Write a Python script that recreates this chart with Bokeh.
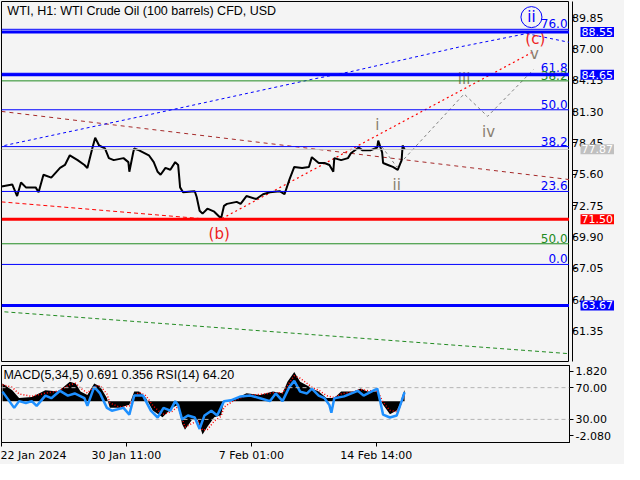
from bokeh.plotting import figure
from bokeh.layouts import column, row
from bokeh.models import Range1d, FixedTicker, Label, Span, NumeralTickFormatter
from bokeh.core.properties import value
from bokeh.embed import file_html
from bokeh.resources import INLINE

# ---------------- data ----------------
title_text = "WTI, H1:  WTI Crude Oil (100 barrels) CFD, USD"
macd_text = "MACD(5,34,5) 0.691 0.356 RSI(14) 64.20"

price_ticks = [61.35, 64.20, 67.05, 69.90, 72.75, 75.60, 78.45, 81.30, 84.15, 87.00, 89.85]
time_ticks = [0, 128, 256, 384]
time_labels = ["22 Jan 2024", "30 Jan 11:00", "7 Feb 01:00", "14 Feb 14:00"]

bar_x = [0, 11, 16, 20, 25, 35, 38, 43, 51, 60, 65, 70, 78, 85, 88, 93, 96, 100, 106, 110,
         115, 125, 130, 131, 135, 136, 141, 151, 156, 160, 163, 168, 173, 178, 181, 183, 186, 198, 200, 203,
         206, 211, 218, 225, 228, 231, 241, 245, 251, 261, 268, 275, 285, 290, 295, 300, 308, 315, 318, 325,
         331, 336, 340, 341, 348, 355, 358, 366, 370, 378, 385, 386, 390, 391, 396, 401, 406, 410, 411, 413]
close = [74.50, 74.68, 73.62, 74.86, 74.41, 74.41, 73.97, 75.56, 75.30, 76.18,
         76.45, 77.33, 76.89, 76.45, 76.18, 77.95, 78.93, 78.22, 77.95, 77.07,
         76.89, 77.07, 76.71, 75.83, 77.60, 77.95, 77.78, 77.33, 76.71, 75.83,
         75.56, 76.18, 76.01, 76.71, 76.45, 74.41, 73.97, 74.06, 73.53, 72.29,
         72.02, 72.47, 72.20, 71.58, 72.73, 72.91, 73.09, 72.91, 73.62, 73.35,
         73.79, 73.97, 74.06, 73.79, 75.12, 76.27, 76.18, 76.27, 77.16, 76.63,
         76.63, 76.45, 75.83, 77.07, 76.89, 77.07, 77.51, 78.04, 77.78, 77.78,
         78.04, 78.66, 77.60, 76.63, 76.45, 76.27, 76.01, 76.89, 78.22, 77.87]

# horizontal levels
thick_blue_levels = [88.55, 84.65, 63.67]
red_level = 71.50
current_price = 77.87
fib_blue_levels = [67.40, 74.04, 78.12, 81.47, 84.79, 88.79]
fib_blue_labels = ["0.0", "23.6", "38.2", "50.0", "61.8", "76.0"]
fib_green_levels = [84.10, 69.28]
fib_green_labels = ["38.2", "50.0"]

# price tags on the right scale
tag_values = [88.55, 84.65, 77.87, 71.50, 63.67]
tag_colors = ["#0000ff", "#0000ff", "#c0c0c0", "#ff0000", "#0000ff"]

# sloping trend lines
blue_curve_x = [3, 148, 318, 358, 468, 538, 582]
blue_curve_y = [78.22, 80.96, 84.24, 84.94, 87.16, 88.40, 87.60]
brown_x = [0, 582]
brown_y = [81.32, 75.12]
red_dash_x = [0, 203]
red_dash_y = [73.09, 71.58]
red_dot_x = [226, 546]
red_dot_y = [71.58, 86.80]
green_x = [3, 582]
green_y = [63.09, 59.28]
wave_x = [386, 405, 474, 498, 545]
wave_y = [78.57, 76.27, 82.91, 80.87, 85.12]

# wave labels
gray_lbl = ["i", "ii", "iii", "iv", "v"]
gray_lbl_x = [385, 405, 474, 499, 546]
gray_lbl_y = [80.08, 74.59, 84.24, 79.46, 86.54]
red_lbl = ["(b)", "(c)"]
red_lbl_x = [223, 547]
red_lbl_y = [70.17, 87.95]
circ_lbl_x = [543]
circ_lbl_y = [89.90]

# MACD / RSI sub-window
m_x = [1, 11, 18, 31, 45, 58, 70, 76, 81, 88, 95, 101, 108, 111, 121, 131, 136, 141, 148, 155,
       165, 175, 181, 185, 188, 195, 201, 206, 211, 218, 225, 228, 238, 251, 265, 278, 288, 293, 300, 306,
       315, 318, 325, 333, 341, 348, 361, 368, 375, 385, 388, 391, 398, 405, 408, 411, 413]
macd = [1.08, 0.67, 0.20, 0.26, 0.67, 0.60, 1.19, 1.08, 0.60, 0.38,
        1.08, 0.90, 0.20, -0.38, -0.38, -0.20, 0.60, 0.60, 0.20, -0.55,
        -0.96, -0.38, -0.20, -1.37, -1.72, -1.13, -1.13, -2.00, -1.54, -0.96,
        -0.84, 0.00, 0.09, 0.49, 0.38, 0.60, 0.49, 1.19, 1.77, 1.19,
        0.90, 0.78, 0.60, 0.20, 0.20, 0.60, 0.60, 0.78, 0.60, 0.60,
        0.09, -0.20, -0.78, -0.55, -0.20, 0.38, 0.69]
signal = [1.00, 0.85, 0.45, 0.30, 0.50, 0.62, 1.00, 1.10, 0.80, 0.50,
          0.90, 0.95, 0.45, -0.10, -0.35, -0.28, 0.30, 0.55, 0.35, -0.25,
          -0.80, -0.60, -0.30, -1.00, -1.55, -1.35, -1.15, -1.75, -1.70, -1.20,
          -0.90, -0.35, 0.05, 0.35, 0.42, 0.52, 0.52, 0.95, 1.55, 1.40,
          1.00, 0.85, 0.68, 0.35, 0.22, 0.45, 0.58, 0.72, 0.65, 0.60,
          0.30, -0.05, -0.55, -0.62, -0.35, 0.10, 0.36]
r_x = [1, 13, 18, 25, 31, 36, 45, 51, 60, 68, 75, 85, 88, 95, 101, 108, 113, 125, 131, 136,
       145, 153, 160, 166, 173, 178, 181, 185, 191, 198, 203, 208, 215, 221, 228, 235, 245, 255, 265, 275,
       281, 288, 295, 300, 306, 313, 318, 325, 331, 336, 338, 341, 351, 365, 371, 385, 388, 391, 398, 405,
       410, 413]
rsi = [65, 44.5, 53, 50.6, 53, 47, 60, 56.7, 66, 60, 62.7, 56.7, 47, 71, 62.7, 44.5, 41, 44.5, 36, 60,
       60, 41, 32.4, 44.5, 41, 53, 48, 30, 35, 32.4, 18, 35, 41, 35, 53, 54, 59, 60, 56.7, 53,
       62.7, 53, 71, 78.5, 65, 62.7, 68.8, 60, 56.7, 48, 38.5, 56.7, 59, 66, 60, 68.8, 53, 36, 32.4, 35,
       53, 64.2]
rsi_levels = [70, 30]
macd_scale = [1.82, -2.08]

# ---------------- styling ----------------
BG = "#f4f4f4"
AX_FONT = "DejaVu Sans"
HDR_FONT = "Liberation Sans"
x_rng = Range1d(0, 582)
y_rng = Range1d(58.57, 91.32)

def style_axis(ax):
    ax.minor_tick_out = 0
    ax.minor_tick_in = 0
    ax.major_label_text_font = AX_FONT
    ax.major_label_text_font_size = "11px"
    ax.major_label_text_color = "black"
    ax.axis_line_color = "black"
    ax.major_tick_line_color = "black"

# main price window (no axis of its own)
p = figure(width=569, height=362, x_range=x_rng, y_range=y_rng,
           output_backend="svg", toolbar_location=None, x_axis_location=None,
           y_axis_location=None, min_border_left=1, min_border_right=0,
           min_border_top=1, min_border_bottom=1,
           background_fill_color=BG, border_fill_color=BG)
p.grid.visible = False
p.outline_line_color = "black"
p.outline_line_width = 1

# price scale strip to the right, sharing the price range
pa = figure(width=55, height=362, x_range=Range1d(0, 1), y_range=y_rng,
            output_backend="svg", toolbar_location=None, x_axis_location=None,
            y_axis_location="left", min_border_left=0, min_border_right=0,
            min_border_top=1, min_border_bottom=1,
            background_fill_color=BG, border_fill_color=BG)
pa.grid.visible = False
pa.outline_line_color = None
ya = pa.yaxis[0]
ya.ticker = FixedTicker(ticks=price_ticks)
ya.formatter = NumeralTickFormatter(format="0.00")
style_axis(ya)
ya.major_tick_out = 0
ya.major_tick_in = 4
ya.major_label_text_align = "right"
ya.major_label_standoff = -31

# thin levels
for lv in fib_blue_levels:
    p.add_layout(Span(location=lv, dimension="width", line_color="#0000ff", line_width=1))
for lv in fib_green_levels:
    p.add_layout(Span(location=lv, dimension="width", line_color="#228b22", line_width=1))
p.add_layout(Span(location=current_price, dimension="width", line_color="#c0c0c0", line_width=1))

# sloping lines
p.line(green_x, green_y, line_color="#228b22", line_dash="4 3", line_width=1)
p.line(brown_x, brown_y, line_color="#a52a2a", line_dash="4 4", line_width=1)
p.line(blue_curve_x, blue_curve_y, line_color="#0000ff", line_dash="3 3", line_width=1)
p.line(red_dash_x, red_dash_y, line_color="#ff0000", line_dash="4 3", line_width=1)
p.line(red_dot_x, red_dot_y, line_color="#ff0000", line_dash="2 3", line_width=1.2)
p.line(wave_x, wave_y, line_color="#808080", line_dash="3 3", line_width=1)

# thick levels
for lv in thick_blue_levels:
    p.add_layout(Span(location=lv, dimension="width", line_color="#0000ff", line_width=3))
p.add_layout(Span(location=red_level, dimension="width", line_color="#ff0000", line_width=3))

# price
p.line(bar_x, close, line_color="black", line_width=2)

# fib labels
p.text(x=[580] * len(fib_blue_levels), y=fib_blue_levels, text=fib_blue_labels,
       text_align="right", text_baseline="bottom", y_offset=-1,
       text_color="#0000ff", text_font=value(AX_FONT), text_font_size="12px")
p.text(x=[580] * len(fib_green_levels), y=fib_green_levels, text=fib_green_labels,
       text_align="right", text_baseline="bottom", y_offset=-1,
       text_color="#228b22", text_font=value(AX_FONT), text_font_size="12px")

# wave labels
p.text(x=gray_lbl_x, y=gray_lbl_y, text=gray_lbl, text_align="center", text_baseline="middle",
       text_color="#8a8070", text_font=value(AX_FONT), text_font_size="15px")
p.text(x=red_lbl_x, y=red_lbl_y, text=red_lbl, text_align="center", text_baseline="middle",
       text_color="#ee1c1c", text_font=value(AX_FONT), text_font_size="15px")
p.scatter(x=circ_lbl_x, y=circ_lbl_y, marker="circle", size=21, fill_color=None,
          line_color="#0000ff", line_width=1)
p.text(x=circ_lbl_x, y=circ_lbl_y, text=["ii"], text_align="center", text_baseline="middle",
       text_color="#0000ff", text_font=value(AX_FONT), text_font_size="15px")

# header
p.text(x=[6], y=[90.43], text=[title_text], text_align="left", text_baseline="middle",
       text_color="black", text_font=value(HDR_FONT), text_font_size="12.5px")

# price tags inside the price-scale strip
for val, col in zip(tag_values, tag_colors):
    pa.add_layout(Label(x=0, y=val, x_offset=8, text=f"{val:.2f}", text_color="white",
                        text_font=AX_FONT, text_font_size="11px", text_align="left",
                        text_baseline="middle", background_fill_color=col,
                        background_fill_alpha=1.0, padding=1))

top = row(p, pa, spacing=0)

# ---------------- MACD panel ----------------
r0, r1 = 0.9, 97.9
m0, m1 = -2.49, 2.17
q = figure(width=624, height=102, x_range=x_rng, y_range=Range1d(r0, r1),
           output_backend="svg", toolbar_location=None, y_axis_location="right",
           min_border_left=1, min_border_right=55, min_border_top=3, min_border_bottom=20,
           background_fill_color=BG, border_fill_color=BG)
q.extra_y_ranges = {"macd": Range1d(m0, m1)}
q.grid.visible = False
q.outline_line_color = "black"

for lv in rsi_levels:
    q.add_layout(Span(location=lv, dimension="width", line_color="#b4b4b4", line_dash="4 3", line_width=1))
q.varea(x=m_x, y1=0, y2=macd, fill_color="black", y_range_name="macd")
q.line(m_x, signal, line_color="#ff0000", line_dash="1 2", line_width=1.5, y_range_name="macd")
q.line(r_x, rsi, line_color="#1e90ff", line_width=2.5)
q.text(x=[2], y=[85.5], text=[macd_text], text_align="left", text_baseline="middle",
       text_color="black", text_font=value(HDR_FONT), text_font_size="12.5px")

def to_rsi(m):
    return round(r0 + (m - m0) * (r1 - r0) / (m1 - m0), 3)

q_ticks = [to_rsi(macd_scale[0]), rsi_levels[0], rsi_levels[1], to_rsi(macd_scale[1])]
q_labels = [f"{macd_scale[0]:.3f}", f"{rsi_levels[0]:.2f}", f"{rsi_levels[1]:.2f}", f"{macd_scale[1]:.3f}"]
qy = q.yaxis[0]
qy.ticker = FixedTicker(ticks=q_ticks)
qy.major_label_overrides = {t: l for t, l in zip(q_ticks, q_labels)}
style_axis(qy)
qy.major_tick_out = 4
qy.major_tick_in = 0
qy.major_label_standoff = 2

qx = q.xaxis[0]
qx.ticker = FixedTicker(ticks=time_ticks)
qx.major_label_overrides = {t: l for t, l in zip(time_ticks, time_labels)}
style_axis(qx)
qx.major_label_text_align = "left"
qx.major_tick_out = 4
qx.major_tick_in = 0
qx.major_label_standoff = 2

layout = column(top, q, spacing=0, styles={"background-color": BG})
open("out.html", "w").write(file_html(layout, INLINE))
